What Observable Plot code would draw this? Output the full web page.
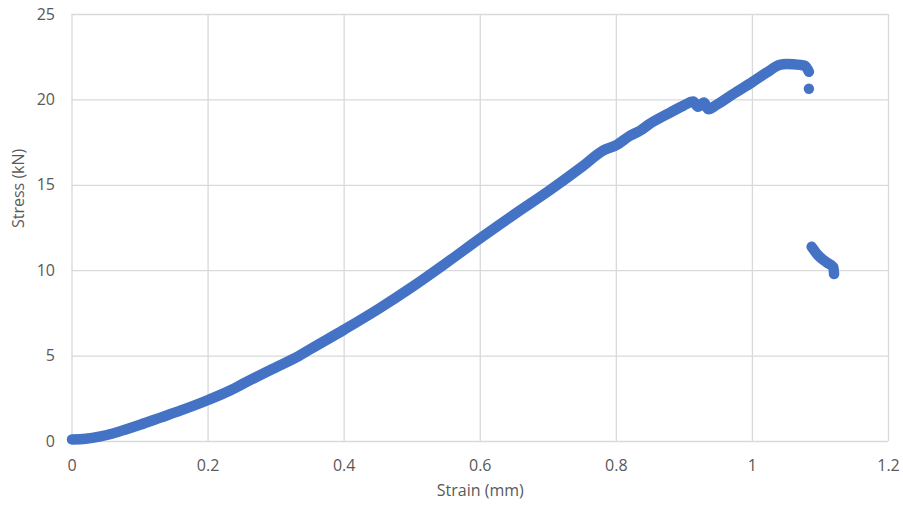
<!DOCTYPE html>
<html>
<head>
<meta charset="utf-8">
<script src="https://cdn.jsdelivr.net/npm/d3@7"></script>
<script src="https://cdn.jsdelivr.net/npm/@observablehq/plot@0.6"></script>
<style>
  html, body { margin: 0; padding: 0; background: #ffffff; }
</style>
</head>
<body>
<div id="chart"></div>
<script>
const strainMain = [0, 0.02, 0.04, 0.06, 0.08, 0.10, 0.13, 0.16, 0.20, 0.233, 0.25, 0.30, 0.333, 0.35, 0.40, 0.45, 0.50, 0.55, 0.60, 0.65, 0.70, 0.75, 0.781, 0.80, 0.82, 0.835, 0.849, 0.874, 0.898, 0.913, 0.92, 0.929, 0.935, 0.947, 0.972, 1.00, 1.021, 1.04, 1.05, 1.07, 1.077, 1.083];
const stressMain = [0.12, 0.16, 0.28, 0.47, 0.72, 0.98, 1.40, 1.82, 2.43, 3.0, 3.35, 4.35, 5.0, 5.4, 6.55, 7.75, 9.05, 10.45, 11.9, 13.3, 14.65, 16.1, 17.05, 17.35, 17.9, 18.2, 18.6, 19.15, 19.65, 19.90, 19.60, 19.85, 19.45, 19.70, 20.35, 21.05, 21.60, 22.05, 22.10, 22.05, 22.0, 21.65];
const strainTail = [1.087, 1.097, 1.109, 1.119, 1.12];
const stressTail = [11.4, 10.88, 10.49, 10.2, 9.8];
const strainDrop = [1.083];
const stressDrop = [20.65];
const xTicks = [0, 0.2, 0.4, 0.6, 0.8, 1, 1.2];
const yTicks = [0, 5, 10, 15, 20, 25];
const xTitle = "Strain (mm)";
const yTitle = "Stress (kN)";

const main = strainMain.map((x, i) => ({x, y: stressMain[i]}));
const tail = strainTail.map((x, i) => ({x, y: stressTail[i]}));
const drop = strainDrop.map((x, i) => ({x, y: stressDrop[i]}));

const blue = "#4472c4";
const gridColor = "#d9d9d9";

const chart = Plot.plot({
  width: 903,
  height: 508,
  marginLeft: 71.5,
  marginRight: 15,
  marginTop: 14,
  marginBottom: 67,
  x: {domain: [0, 1.2]},
  y: {domain: [0, 25]},
  style: {fontFamily: "'Open Sans', sans-serif", fontSize: "16px", color: "#595959", background: "#ffffff"},
  marks: [
    Plot.gridX(xTicks, {stroke: gridColor, strokeOpacity: 1, strokeWidth: 1.3}),
    Plot.gridY(yTicks, {stroke: gridColor, strokeOpacity: 1, strokeWidth: 1.3}),
    Plot.axisX(xTicks, {tickSize: 0, tickPadding: 18, tickFormat: d => String(d), label: null, fill: "#595959"}),
    Plot.axisY(yTicks, {tickSize: 0, tickPadding: 17, tickFormat: d => String(d), label: null, fill: "#595959"}),
    Plot.text([xTitle], {text: d => d, frameAnchor: "bottom", dy: 54, fill: "#595959", fontSize: 16}),
    Plot.text([yTitle], {text: d => d, frameAnchor: "left", dx: -53, rotate: -90, fill: "#595959", fontSize: 16}),
    Plot.line(main, {x: "x", y: "y", curve: "monotone-x", stroke: blue, strokeWidth: 10.5, strokeLinecap: "round", strokeLinejoin: "round"}),
    Plot.line(tail, {x: "x", y: "y", curve: "monotone-x", stroke: blue, strokeWidth: 10.5, strokeLinecap: "round", strokeLinejoin: "round"}),
    Plot.dot(drop, {x: "x", y: "y", r: 5.2, fill: blue, stroke: null})
  ]
});
document.getElementById("chart").appendChild(chart);
</script>
</body>
</html>
